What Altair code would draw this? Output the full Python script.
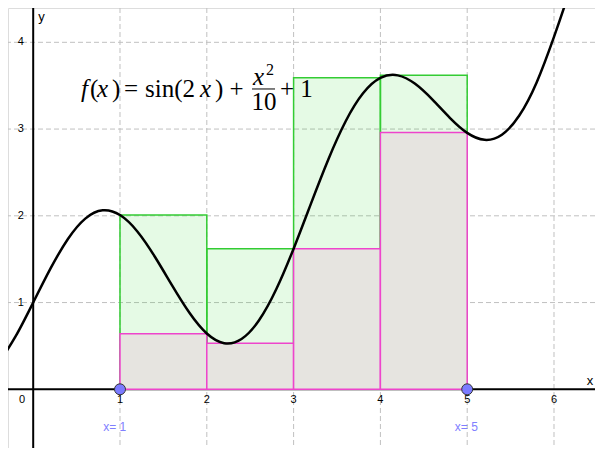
import altair as alt
import pandas as pd

# ---- data ----
curve_x = [-0.4, -0.2, 0.0, 0.2, 0.4, 0.6, 0.8, 1.0, 1.2, 1.4, 1.6, 1.8, 2.0, 2.2, 2.4,
           2.6, 2.8, 3.0, 3.2, 3.4, 3.6, 3.8, 4.0, 4.2, 4.4, 4.6, 4.8, 5.0, 5.2, 5.4,
           5.6, 5.8, 6.0, 6.2, 6.4]
curve_y = [0.299, 0.615, 1.000, 1.393, 1.733, 1.968, 2.064, 2.009, 1.820, 1.531, 1.198,
           0.882, 0.643, 0.532, 0.580, 0.793, 1.153, 1.621, 2.141, 2.650, 3.090, 3.412,
           3.589, 3.619, 3.521, 3.339, 3.130, 2.956, 2.876, 2.935, 3.156, 3.538, 4.063,
           4.659, 5.327]

interval_left = [1, 2, 3, 4]
interval_right = [2, 3, 4, 5]
upper_values = [2.01, 1.62, 3.59, 3.62]
lower_values = [0.64, 0.53, 1.62, 2.96]

grid_x = [1, 2, 3, 4, 5, 6]
grid_y = [1, 2, 3, 4]
x_tick_labels = ["1", "2", "3", "4", "5", "6"]
y_tick_labels = ["1", "2", "3", "4"]

point_x = [1, 5]
point_labels = ["x= 1", "x= 5"]
point_label_x = [0.939, 4.990]

formula_text = ["f", "(", "x", ")", "=", "sin(2", "x", ") +", "x", "2", "10", "+ 1"]
formula_x = [0.551, 0.654, 0.735, 0.908, 1.047, 1.288, 1.922, 2.094, 2.596, 2.682, 2.659, 2.843]
formula_y = [3.369, 3.369, 3.369, 3.369, 3.369, 3.369, 3.369, 3.369, 3.508, 3.623, 3.219, 3.369]
formula_italic = [True, False, True, False, False, False, True, False, True, False, False, False]
formula_size = [25, 25, 25, 25, 25, 25, 25, 25, 25, 16, 25, 25]
formula_align = ["left", "left", "left", "left", "left", "left", "left", "left",
                 "center", "left", "center", "left"]
frac_bar = (2.521, 2.786, 3.462)

XMIN, XMAX = -0.2903, 6.4724
YMIN, YMAX = -0.6766, 4.3954

xs = alt.Scale(domain=[XMIN, XMAX], nice=False, zero=False)
ys = alt.Scale(domain=[YMIN, YMAX], nice=False, zero=False)


def X(f):
    return alt.X(f, type="quantitative", scale=xs, axis=None)


def Y(f):
    return alt.Y(f, type="quantitative", scale=ys, axis=None)


rect_df = pd.DataFrame({"x0": interval_left, "x1": interval_right,
                        "up": upper_values, "lo": lower_values,
                        "base": [0] * 4})
curve_df = pd.DataFrame({"x": curve_x, "y": curve_y})

grid_v = alt.Chart(pd.DataFrame({"g": grid_x})).mark_rule(
    color="#c0c0c0", strokeWidth=1, strokeDash=[5, 3]).encode(x=X("g"))
grid_h = alt.Chart(pd.DataFrame({"g": grid_y})).mark_rule(
    color="#c0c0c0", strokeWidth=1, strokeDash=[5, 3]).encode(y=Y("g"))

axis_v = alt.Chart(pd.DataFrame({"v": [0]})).mark_rule(
    color="#000000", strokeWidth=2).encode(x=X("v"))
axis_h = alt.Chart(pd.DataFrame({"v": [0]})).mark_rule(
    color="#000000", strokeWidth=2).encode(y=Y("v"))

upper = alt.Chart(rect_df).mark_rect(
    fill="#00cc00", fillOpacity=0.1, stroke="#33cc33", strokeWidth=1.5).encode(
    x=X("x0"), x2="x1", y=Y("up"), y2="base")
lower = alt.Chart(rect_df).mark_rect(
    fill="#e6e4e0", stroke="#ee44cc", strokeWidth=1.5).encode(
    x=X("x0"), x2="x1", y=Y("lo"), y2="base")

curve = alt.Chart(curve_df).mark_line(
    color="#000000", strokeWidth=2.5, interpolate="natural", clip=True).encode(
    x=X("x"), y=Y("y"))

pts = alt.Chart(pd.DataFrame({"x": point_x, "y": [0, 0]})).mark_circle(
    size=120, color="#7b7bff", opacity=1, stroke="#333333", strokeWidth=1).encode(
    x=X("x"), y=Y("y"))

pt_labels = alt.Chart(pd.DataFrame({"x": point_label_x, "y": [-0.435, -0.435],
                                    "t": point_labels})).mark_text(
    font="Liberation Sans", fontSize=12, color="#8080ff", align="center",
    baseline="middle").encode(x=X("x"), y=Y("y"), text="t:N")

xt = alt.Chart(pd.DataFrame({"x": grid_x, "y": [-0.123] * 6, "t": x_tick_labels})).mark_text(
    font="Liberation Sans", fontSize=11, color="#000000", align="center",
    baseline="middle").encode(x=X("x"), y=Y("y"), text="t:N")
yt = alt.Chart(pd.DataFrame({"x": [-0.106] * 4, "y": grid_y, "t": y_tick_labels})).mark_text(
    font="Liberation Sans", fontSize=11, color="#000000", align="right",
    baseline="middle").encode(x=X("x"), y=Y("y"), text="t:N")
zero = alt.Chart(pd.DataFrame({"x": [-0.129], "y": [-0.123], "t": ["0"]})).mark_text(
    font="Liberation Sans", fontSize=11, color="#000000", align="center",
    baseline="middle").encode(x=X("x"), y=Y("y"), text="t:N")
axlab = alt.Chart(pd.DataFrame({"x": [6.415, 0.096], "y": [0.09, 4.292],
                                "t": ["x", "y"]})).mark_text(
    font="Liberation Sans", fontSize=13, color="#000000", align="center",
    baseline="middle").encode(x=X("x"), y=Y("y"), text="t:N")

layers = [grid_v, grid_h, axis_v, axis_h, upper, lower, curve, pts, pt_labels,
          xt, yt, zero, axlab]

for t, fx, fy, it, sz, al in zip(formula_text, formula_x, formula_y, formula_italic,
                                 formula_size, formula_align):
    layers.append(
        alt.Chart(pd.DataFrame({"x": [fx], "y": [fy], "t": [t]})).mark_text(
            font="Liberation Serif", fontSize=sz, fontStyle="italic" if it else "normal",
            color="#000000", align=al, baseline="alphabetic").encode(
            x=X("x"), y=Y("y"), text="t:N"))

bar = alt.Chart(pd.DataFrame({"a": [frac_bar[0]], "b": [frac_bar[1]], "y": [frac_bar[2]]})).mark_rule(
    color="#000000", strokeWidth=1).encode(x=X("a"), x2="b", y=Y("y"))
layers.append(bar)

chart = alt.layer(*layers).properties(
    width=587, height=440, autosize=alt.AutoSizeParams(type="none"), padding=0
).configure_view(stroke=None).configure(background="white")

chart.save("out.html", embed_options={"renderer": "svg", "actions": False})
